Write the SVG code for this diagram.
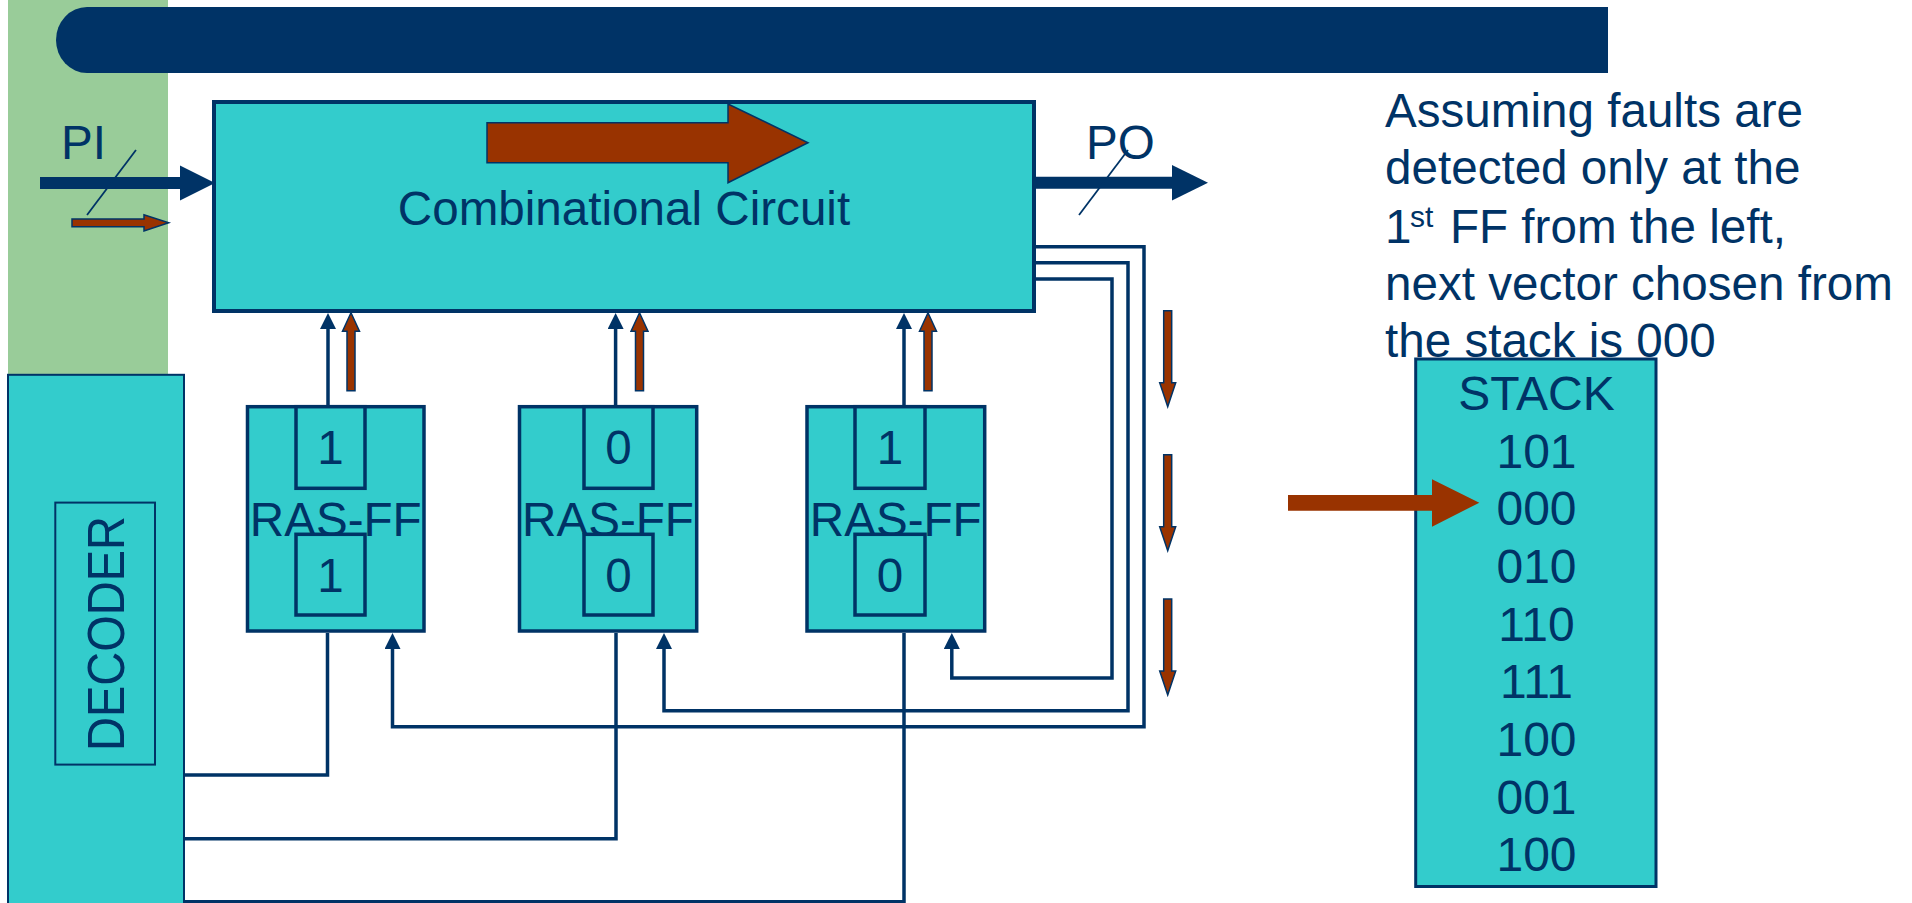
<svg xmlns="http://www.w3.org/2000/svg" width="1912" height="903" viewBox="0 0 1912 903">
<style>
  text { font-family: "Liberation Sans", Arial, sans-serif; fill: #003366; }
  .box { fill: #33CCCC; stroke: #003366; }
  .wire { fill: none; stroke: #003366; stroke-width: 3.5; }
  .thin { fill: none; stroke: #003366; stroke-width: 1.8; }
  .red { fill: #993300; stroke: #003366; stroke-width: 1.5; }
  .big { font-size: 47.6px; }
  .mid { text-anchor: middle; }
  .stk { font-size: 48px; text-anchor: middle; }
</style>
<defs>
  <marker id="ah" viewBox="0 0 16 16" refX="0" refY="8" markerWidth="16" markerHeight="16" markerUnits="userSpaceOnUse" orient="auto">
    <path d="M0,0 L16,8 L0,16 Z" fill="#003366"/>
  </marker>
  <path id="redUp" d="M0,0 L8.5,18.5 L4,18.5 L4,78 L-4,78 L-4,18.5 L-8.5,18.5 Z"/>
  <path id="redDown" d="M0,0 L8,-24 L4,-24 L4,-96 L-4,-96 L-4,-24 L-8,-24 Z"/>
</defs>

<rect x="8" y="0" width="160" height="375" fill="#99CC99"/>
<path d="M87,7 H1608 V73 H87 A31,33 0 0 1 87,7 Z" fill="#003366"/>

<g id="combinational-circuit">
  <rect class="box" x="214" y="102" width="820" height="209" stroke-width="4"/>
  <polygon class="red" points="487,122.7 728,122.7 728,104 808,142.7 728,182.7 728,162.7 487,162.7"/>
  <text class="big mid" x="624" y="225">Combinational Circuit</text>
</g>

<g id="ff1">
  <rect class="box" x="247.5" y="406.7" width="176.5" height="224.3" stroke-width="3.5"/>
  <text class="big mid" x="335.7" y="536">RAS-FF</text>
  <rect class="box" x="296" y="406.7" width="69" height="81.6" stroke-width="3.5"/>
  <rect class="box" x="296" y="534.3" width="69" height="80.7" stroke-width="3.5"/>
  <text class="big mid" x="330.5" y="464">1</text>
  <text class="big mid" x="330.5" y="592">1</text>
</g>
<g id="ff2">
  <rect class="box" x="519.5" y="406.7" width="177.2" height="224.3" stroke-width="3.5"/>
  <text class="big mid" x="608" y="536">RAS-FF</text>
  <rect class="box" x="584" y="406.7" width="69" height="81.6" stroke-width="3.5"/>
  <rect class="box" x="584" y="534.3" width="69" height="80.7" stroke-width="3.5"/>
  <text class="big mid" x="618.5" y="464">0</text>
  <text class="big mid" x="618.5" y="592">0</text>
</g>
<g id="ff3">
  <rect class="box" x="807" y="406.7" width="177.7" height="224.3" stroke-width="3.5"/>
  <text class="big mid" x="895.7" y="536">RAS-FF</text>
  <rect class="box" x="855" y="406.7" width="70" height="81.6" stroke-width="3.5"/>
  <rect class="box" x="855" y="534.3" width="70" height="80.7" stroke-width="3.5"/>
  <text class="big mid" x="890" y="464">1</text>
  <text class="big mid" x="890" y="592">0</text>
</g>

<g id="decoder">
  <rect class="box" x="8" y="374.8" width="176" height="540" stroke-width="2"/>
  <rect x="55.3" y="502.6" width="99.7" height="262" fill="none" stroke="#003366" stroke-width="2"/>
  <text transform="translate(124,633.5) rotate(-90)" class="mid" font-size="51" textLength="235" lengthAdjust="spacingAndGlyphs">DECODER</text>
</g>

<g id="note">
  <text class="big" x="1385" y="126.7">Assuming faults are</text>
  <text class="big" x="1385" y="184.3">detected only at the</text>
  <text class="big" x="1385" y="243.3">1<tspan x="1410" y="227" font-size="30">st</tspan><tspan x="1450" y="243.3">FF from the left,</tspan></text>
  <text class="big" x="1385" y="300">next vector chosen from</text>
  <text class="big" x="1385" y="356.7">the stack is 000</text>
</g>

<g id="stack">
  <rect class="box" x="1415.7" y="359" width="240.3" height="527.5" stroke-width="3"/>
  <text class="stk" x="1536.5" y="410">STACK</text>
  <text class="stk" x="1536.5" y="467.5">101</text>
  <text class="stk" x="1536.5" y="525.4">000</text>
  <text class="stk" x="1536.5" y="583">010</text>
  <text class="stk" x="1536.5" y="640.5">110</text>
  <text class="stk" x="1536.5" y="698">111</text>
  <text class="stk" x="1536.5" y="755.5">100</text>
  <text class="stk" x="1536.5" y="813.5">001</text>
  <text class="stk" x="1536.5" y="871.3">100</text>
</g>

<g id="connectors">
  <!-- PI -->
  <line x1="40" y1="183" x2="181" y2="183" stroke="#003366" stroke-width="12"/>
  <polygon points="180,165.5 215,183 180,200.5" fill="#003366"/>
  <line class="thin" x1="136" y1="150" x2="87" y2="215"/>
  <text class="big" x="61" y="159">PI</text>
  <!-- PO -->
  <line x1="1034" y1="182.7" x2="1173" y2="182.7" stroke="#003366" stroke-width="12"/>
  <polygon points="1172,165 1208,182.7 1172,200.5" fill="#003366"/>
  <line class="thin" x1="1128" y1="150" x2="1079" y2="215"/>
  <text class="big" x="1086" y="159">PO</text>
  <!-- FF outputs into combinational circuit -->
  <line class="wire" x1="328" y1="406.7" x2="328" y2="329" marker-end="url(#ah)"/>
  <line class="wire" x1="615.6" y1="406.7" x2="615.6" y2="329" marker-end="url(#ah)"/>
  <line class="wire" x1="904" y1="406.7" x2="904" y2="329" marker-end="url(#ah)"/>
  <!-- feedback from combinational circuit to FF inputs -->
  <path class="wire" d="M1036,246.7 H1144 V726.7 H392.5 V649" marker-end="url(#ah)"/>
  <path class="wire" d="M1036,262.7 H1128 V710.7 H664 V649" marker-end="url(#ah)"/>
  <path class="wire" d="M1036,279 H1112 V678 H951.8 V649" marker-end="url(#ah)"/>
  <!-- FF to decoder -->
  <path class="wire" d="M327.5,633 V775 H184"/>
  <path class="wire" d="M616,633 V838.7 H184"/>
  <path class="wire" d="M904,633 V901.7 H184"/>
</g>

<g id="flow-arrows">
  <polygon class="red" points="72,219 144,219 144,214.7 168.7,222.8 144,231 144,226.7 72,226.7"/>
  <use href="#redUp" class="red" x="351" y="312.7"/>
  <use href="#redUp" class="red" x="639.5" y="312.7"/>
  <use href="#redUp" class="red" x="928" y="312.7"/>
  <use href="#redDown" class="red" x="1167.7" y="406.7"/>
  <use href="#redDown" class="red" x="1167.7" y="550.7"/>
  <use href="#redDown" class="red" x="1167.7" y="695"/>
  <polygon points="1288,495 1432,495 1432,479.3 1479.3,502.7 1432,526.7 1432,510.7 1288,510.7" fill="#993300"/>
</g>
</svg>
